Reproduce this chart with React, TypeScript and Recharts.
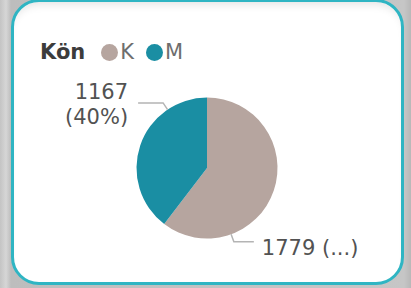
import React from 'react';
import { PieChart, Pie, Cell } from 'recharts';

const categories = ['K', 'M'];
const counts = [1779, 1167];
const labelTexts = [['1779 (...)'], ['1167', '(40%)']];

const COLORS = ['#b6a59f', '#1a8ea3'];
// where each leader line leaves the pie (degrees, counter-clockwise from 3 o'clock)
const LABEL_ANGLES = [-70, 124];
const FONT = '"DejaVu Sans", Verdana, sans-serif';

const data = categories.map((name, i) => ({ name, value: counts[i] }));

const renderLabel = (props: any) => {
  const { cx, cy, outerRadius, index } = props;
  const a = (LABEL_ANGLES[index] * Math.PI) / 180;
  const ex = cx + outerRadius * Math.cos(a);
  const ey = cy - outerRadius * Math.sin(a);
  const bx = cx + (outerRadius + 8) * Math.cos(a);
  const by = cy - (outerRadius + 8) * Math.sin(a);
  const right = Math.cos(a) >= 0;
  const hx = bx + (right ? 20 : -25);
  const tx = hx + (right ? 8 : -10);
  const lines = labelTexts[index];
  const firstY = lines.length > 1 ? by - 4 : by + 13;
  return (
    <g key={`lbl-${index}`}>
      <polyline points={`${ex},${ey} ${bx},${by} ${hx},${by}`} fill="none" stroke="#b4b4b4" strokeWidth={1.5} />
      <text x={tx} y={firstY} textAnchor={right ? 'start' : 'end'} fill="#525252" fontSize={21} fontFamily={FONT}>
        {lines.map((l, i) => (
          <tspan key={i} x={tx} dy={i === 0 ? 0 : 25}>{l}</tspan>
        ))}
      </text>
    </g>
  );
};

function LegendBox() {
  return (
    <div style={{ position: 'absolute', left: 40, top: 40, display: 'flex', alignItems: 'center', fontFamily: FONT, fontSize: 21, lineHeight: '24px' }}>
      <span style={{ fontWeight: 'bold', color: '#3c3c3c', marginRight: 16 }}>Kön</span>
      {categories.map((c, i) => (
        <span key={c} style={{ display: 'flex', alignItems: 'center', marginRight: 12 }}>
          <span style={{ width: 17, height: 17, borderRadius: 9, background: COLORS[i], display: 'inline-block', marginRight: 2 }} />
          <span style={{ color: '#6e6e6e' }}>{c}</span>
        </span>
      ))}
    </div>
  );
}

export default function App() {
  return (
    <div style={{ position: 'fixed', left: 0, top: 0, width: 411, height: 288, overflow: 'hidden', background: 'linear-gradient(90deg, #c4c4c4 0px, #d6d6d6 6px, #bdbdbd 11px, #c6c6c6 404px, #b8b8b8 411px)' }}>
      <div style={{
        position: 'absolute', left: 11, top: -1, width: 393, height: 286, boxSizing: 'border-box',
        border: '3px solid #2fb5c3', borderRadius: 28, background: '#ffffff',
        boxShadow: 'inset 0 8px 10px -6px rgba(0,0,0,0.12)',
      }} />
      <LegendBox />
      <div style={{ position: 'absolute', left: 0, top: 0 }}>
        <PieChart width={411} height={288} margin={{ top: 0, right: 0, bottom: 0, left: 0 }}>
          <Pie
            data={data}
            dataKey="value"
            nameKey="name"
            cx={207}
            cy={168}
            outerRadius={70.5}
            startAngle={90}
            endAngle={-270}
            stroke="none"
            label={renderLabel}
            labelLine={false}
            isAnimationActive={false}
          >
            {data.map((d, i) => (
              <Cell key={d.name} fill={COLORS[i]} />
            ))}
          </Pie>
        </PieChart>
      </div>
    </div>
  );
}
